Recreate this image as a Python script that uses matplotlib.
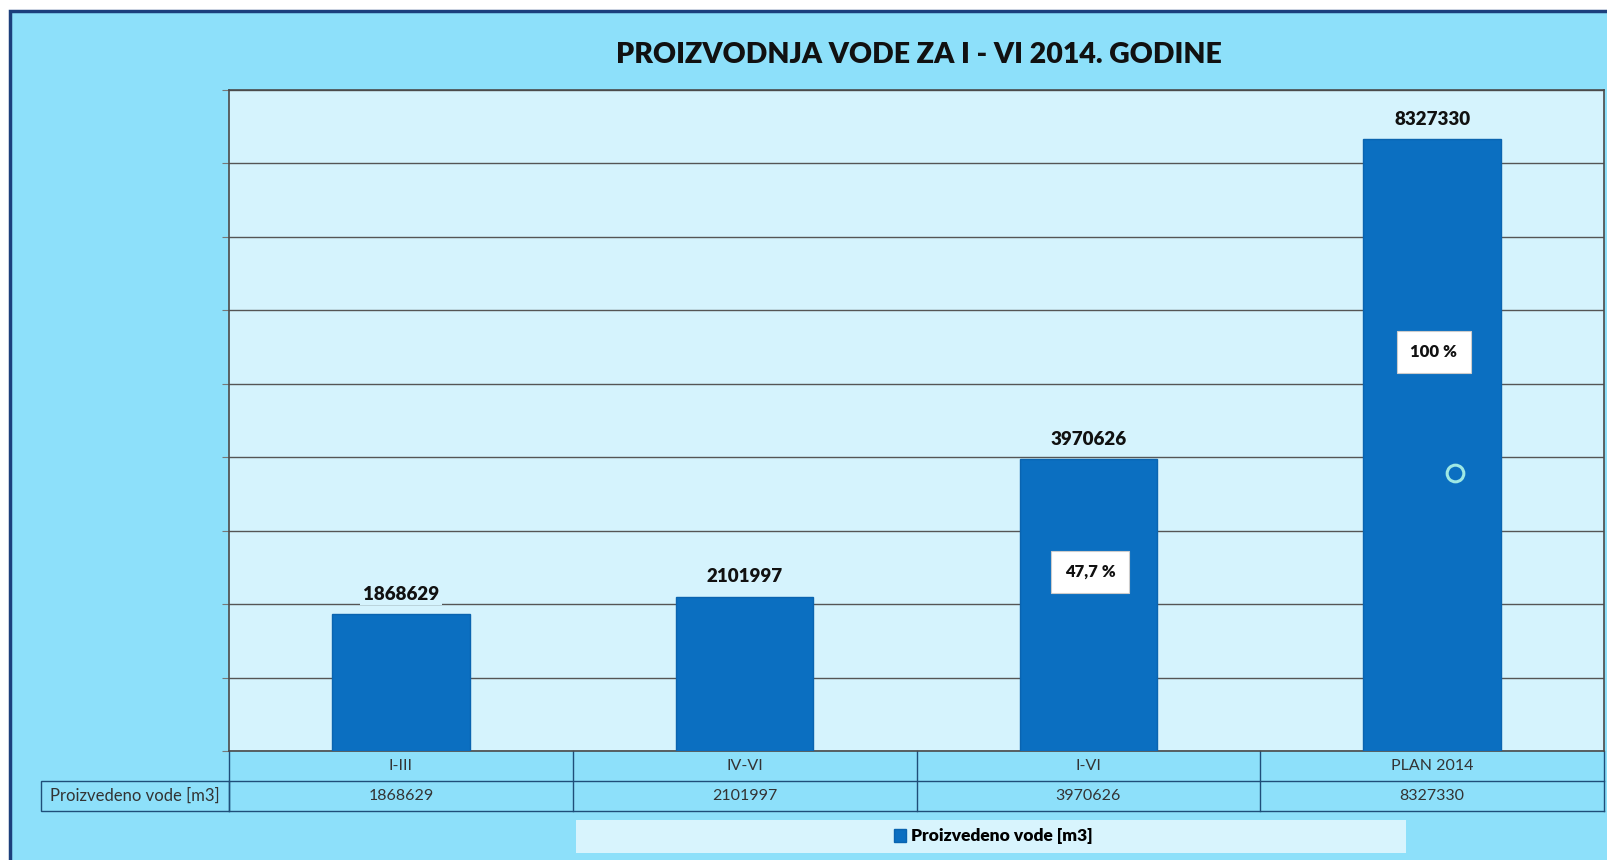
import numpy as np
import matplotlib
matplotlib.use("Agg")
import matplotlib.pyplot as plt
import matplotlib.transforms as mtransforms
from matplotlib.patches import Rectangle

plt.rcParams['font.family'] = ['Lato', 'DejaVu Sans']

# data
categories = ["I-III", "IV-VI", "I-VI", "PLAN 2014"]
values = [1868629, 2101997, 3970626, 8327330]
series_name = "Proizvedeno vode [m3]"
title = "PROIZVODNJA VODE ZA I - VI 2014. GODINE"
plan_index = 3
pct_bars = [2, 3]

W, H = 1607, 860


def fx(px):
    return px / W


def fy(py):
    return 1 - py / H


outer_bg = '#8de0fa'
plot_bg = '#d5f3fd'
bar_color = '#0b6fc1'
navy = '#1f4e79'

fig = plt.figure(figsize=(W / 100, H / 100), dpi=100, facecolor='white')

# outer frame
fig.patches.append(Rectangle((fx(10), -0.05), 1.1, fy(11) + 0.05, transform=fig.transFigure,
                             facecolor=outer_bg, edgecolor='#1c3f7c', linewidth=2.5, zorder=-10))

top, bottom = 89.5, 751.4
ax = fig.add_axes([fx(229), fy(bottom), fx(1604) - fx(229), (bottom - top) / H])
ax.set_facecolor(plot_bg)

x = np.arange(len(categories))
bars = ax.bar(x, values, width=0.4, color=bar_color, edgecolor='#0a64b0', linewidth=1, zorder=3)

ax.set_xlim(-0.5, len(categories) - 0.5)
ax.set_ylim(0, 9e6)
ax.set_yticks(np.arange(0, 9e6 + 1, 1e6))
ax.yaxis.grid(True, color='#555555', linewidth=1)
ax.set_axisbelow(True)
ax.tick_params(axis='y', labelleft=False, length=5, color='#777777')
ax.tick_params(axis='x', bottom=False, labelbottom=False)
for s in ax.spines.values():
    s.set_color('#4a4a4a')
    s.set_linewidth(1.2)

# value labels above bars
for i, v in enumerate(values):
    ax.text(i, v + 0.27e6, str(v), ha='center', va='center', fontsize=13.5, fontweight='heavy',
            color='#111111', zorder=5,
            bbox=dict(facecolor=plot_bg, edgecolor='none', pad=2))

# percentage boxes
pct_y = {2: 2.44e6, 3: 5.43e6}
for i in pct_bars:
    pct = values[i] / values[plan_index] * 100
    txt = f"{pct:.1f}".replace('.', ',').replace(',0', '') + " %"
    ax.text(i + 0.005, pct_y[i], txt, ha='center', va='center', fontsize=12, fontweight='heavy',
            color='#111111', zorder=6,
            bbox=dict(facecolor='white', edgecolor='#cccccc', linewidth=0.8,
                      boxstyle='square,pad=0.8'))

# small ring artifact on plan bar
ax.plot([3.067], [3.785e6], marker='o', markersize=12, markerfacecolor='none',
        markeredgecolor='#9ee8e4', markeredgewidth=2.2, zorder=6)

# data table under the axis
tr = mtransforms.blended_transform_factory(ax.transData, fig.transFigure)
row1_top, row1_bot, row2_bot = bottom, 781, 811
xs = np.arange(len(categories) + 1) - 0.5
ax.plot([xs[0], xs[-1]], [fy(row1_bot)] * 2, transform=tr, color=navy, lw=1, clip_on=False)
ax.plot([xs[0], xs[-1]], [fy(row2_bot)] * 2, transform=tr, color=navy, lw=1, clip_on=False)
for xb in xs:
    ax.plot([xb, xb], [fy(row1_top), fy(row2_bot)], transform=tr, color=navy, lw=1, clip_on=False)
for i, (c, v) in enumerate(zip(categories, values)):
    ax.text(i, fy((row1_top + row1_bot) / 2), c, transform=tr, ha='center', va='center',
            fontsize=11.5, color='#333333')
    ax.text(i, fy((row1_bot + row2_bot) / 2), str(v), transform=tr, ha='center', va='center',
            fontsize=11.5, color='#333333')
fig.patches.append(Rectangle((fx(41), fy(row2_bot)), fx(229) - fx(41), (row2_bot - row1_bot) / H,
                             transform=fig.transFigure, facecolor='none', edgecolor=navy, lw=1))
fig.text(fx(135), fy((row1_bot + row2_bot) / 2), series_name, ha='center', va='center',
         fontsize=12, color='#333333')

# legend
fig.patches.append(Rectangle((fx(576), fy(853)), fx(1406) - fx(576), (853 - 820) / H,
                             transform=fig.transFigure, facecolor='#d8f4fd', edgecolor='none',
                             zorder=-5))
fig.legend(handles=[bars], labels=[series_name], loc='center', bbox_to_anchor=(fx(993), fy(836.5)),
           frameon=False, handlelength=0.7, handleheight=0.7, handletextpad=0.3,
           prop={'size': 12.5, 'weight': 'heavy'})

fig.text(fx(919), fy(55), title, ha='center', va='center', fontsize=20.5, fontweight='heavy',
         color='#111111')

fig.savefig("out.png", dpi=100, facecolor=fig.get_facecolor())
